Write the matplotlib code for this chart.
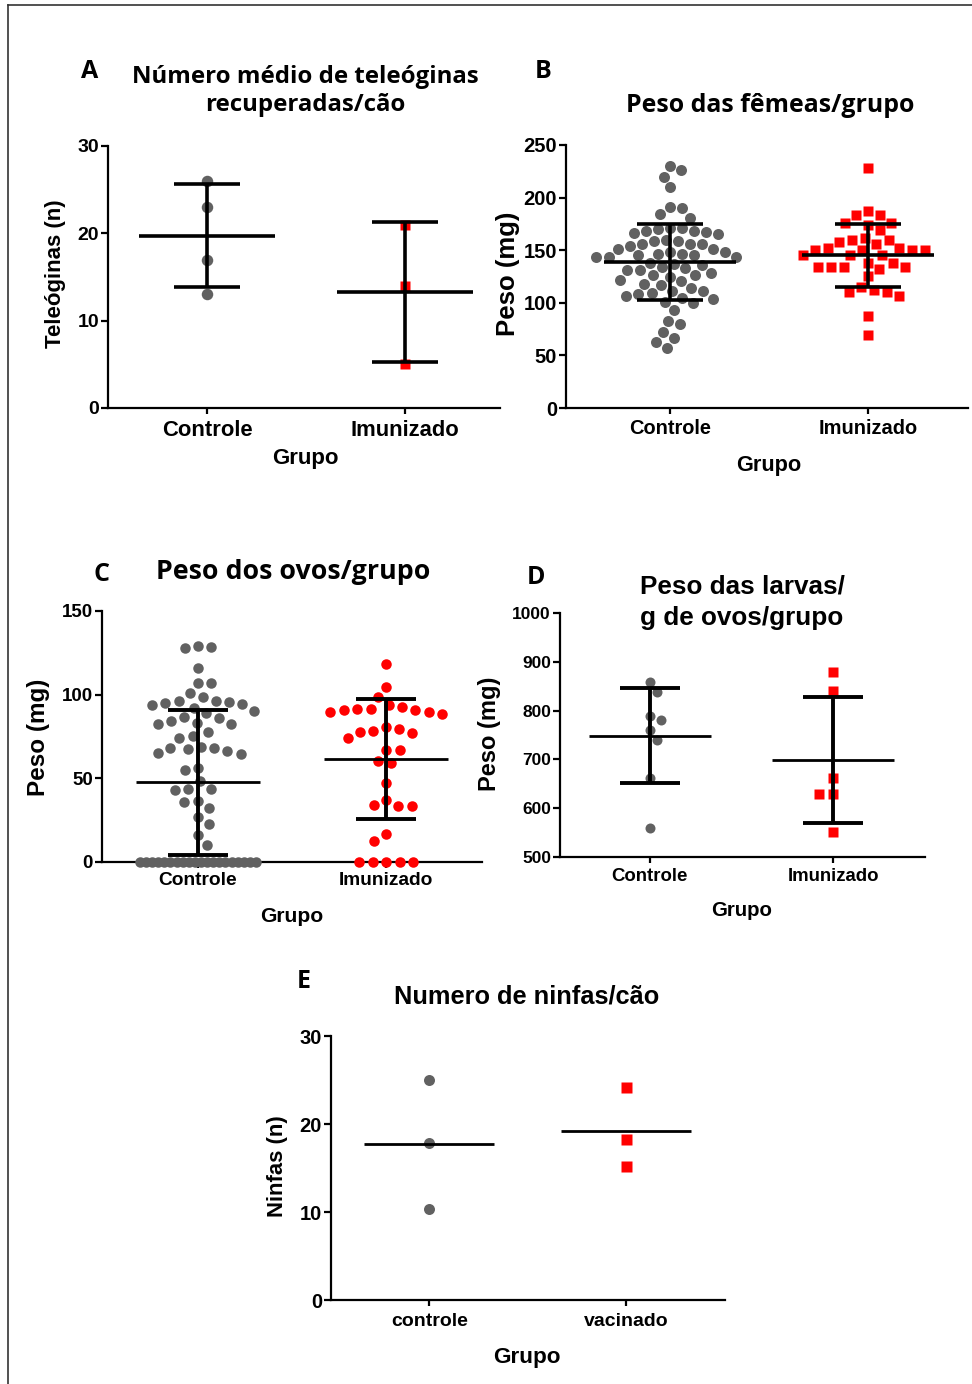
import numpy as np
import matplotlib
matplotlib.use('Agg')
import matplotlib.pyplot as plt
from matplotlib.lines import Line2D

W, H = 972, 1384
DPI = 100

GRAY = '#616161'
RED = '#ff0000'
FONT = 'Liberation Sans'
TFONT = 'Open Sans'

# ---------------- data ----------------
# Panel A
a_groups = ['Controle', 'Imunizado']
a_controle = [26, 23, 17, 13]
a_imunizado = [21, 14, 5]
a_mean = [19.75, 13.3]
a_sd = [5.85, 8.0]

# Panel B
b_groups = ['Controle', 'Imunizado']
b_controle = [226, 230, 220, 210,
              191, 184, 190, 181,
              171, 168, 167, 165, 159, 156, 159, 160, 166, 168, 170, 171,
              156, 151, 148, 146, 145, 144, 144, 144, 145, 146, 148, 151, 154, 156,
              137.5, 136, 133, 131, 126, 125, 126, 128, 131, 134, 137,
              122, 117, 114, 111, 108, 111, 118, 121,
              109, 105, 101, 100, 104, 106,
              93, 80, 83, 72.5, 67, 63, 57]
b_imunizado = [228, 187, 183.5, 183, 176, 174, 176, 169,
               162, 160, 158, 160, 156, 152, 150, 150, 145, 150, 150, 152,
               145, 145, 138, 134, 134, 132, 134, 134, 138, 125.5,
               115, 110, 106.5, 110, 112, 87, 69]
b_mean = [139, 145]
b_sd = [36, 30]

# Panel C
c_groups = ['Controle', 'Imunizado']
c_controle = [128.7, 128.1, 129.1, 115.8, 106.8, 107.2, 100.8,
              96.4, 95.4, 93.8, 98.4, 94.2, 94.8, 96.2,
              90.3, 86.5, 92.2, 82.9, 82.3, 84.3, 85.9, 88.9, 82.6,
              75.3, 73.9, 77.9, 68.9, 67.9, 66.3, 64.4, 65.0, 67.4, 68.3,
              56.4, 55.0, 48.4, 43.6, 43.0, 43.9, 36.0, 36.6, 32.1, 27.1,
              22.5, 16.1, 10.2] + [0] * 20
c_imunizado = [118.4, 104.8, 98.4,
               93.8, 91.5, 90.9, 89.7, 88.5, 89.5, 90.8, 91.6, 92.8,
               80.9, 78.5, 76.9, 73.9, 77.9, 79.5, 66.9, 66.8, 59.4, 60.4,
               47.4, 34.1, 33.7, 33.6, 37.1, 16.7, 12.6, 0, 0, 0, 0, 0]
c_mean = [47.6, 61.4]
c_sd = [43.3, 36.0]

# Panel D
d_groups = ['Controle', 'Imunizado']
d_controle = [859, 839, 789, 781, 760, 740, 661, 560]
d_imunizado = [880, 841, 661, 630, 630, 551]
d_mean = [748.6, 698.8]
d_sd = [97.7, 130.0]

# Panel E
e_groups = ['controle', 'vacinado']
e_controle = [25.0, 17.8, 10.3]
e_vacinado = [24.2, 18.3, 15.2]
e_mean = [17.7, 19.2]

# ---------------- helpers ----------------
fig = plt.figure(figsize=(W / DPI, H / DPI), dpi=DPI)


def px_axes(l, r, b, t):
    return fig.add_axes([l / W, 1 - b / H, (r - l) / W, (b - t) / H])


def ftext(x, y, s, size, family=FONT, rot=0, **kw):
    fig.text(x / W, 1 - y / H, s, fontsize=size, family=family,
             fontweight='bold', ha='center', va='center', rotation=rot, **kw)


def style(ax, xlim, ylim, yticks, xlabels, ysize, xsize, ypad=1.5, xpad=4):
    ax.set_xlim(*xlim)
    ax.set_ylim(*ylim)
    for s in ['top', 'right']:
        ax.spines[s].set_visible(False)
    for s in ['left', 'bottom']:
        ax.spines[s].set_linewidth(1.6)
    ax.set_yticks(yticks)
    ax.set_yticklabels([str(t) for t in yticks], fontsize=ysize,
                       family=FONT, fontweight='bold')
    ax.set_xticks(range(len(xlabels)))
    ax.set_xticklabels(xlabels, fontsize=xsize, family=FONT, fontweight='bold')
    ax.tick_params(axis='y', length=5, width=1.6, pad=ypad)
    ax.tick_params(axis='x', length=4, width=1.6, pad=xpad)
    ax.set_facecolor('none')


def swarm(ax, xc, vals, diam_px, max_hw_px=200):
    vals = np.asarray(vals, float)
    n = len(vals)
    pts_ = ax.transData.transform(np.column_stack([np.full(n, xc), vals]))
    ypx = pts_[:, 1]
    xoff = np.zeros(n)
    handled = np.zeros(n, bool)
    placed = []
    uniq, counts = np.unique(vals, return_counts=True)
    for u, c in zip(uniq, counts):
        if c >= 8:
            idx = np.where(vals == u)[0]
            span = min(max_hw_px, (c - 1) * diam_px / 2)
            xoff[idx] = np.linspace(-span, span, c)
            handled[idx] = True
            placed.extend(idx.tolist())
    order = np.argsort(-vals, kind='stable')
    flip = 1
    for i in order:
        if handled[i]:
            continue
        cands = [0.0]
        for j in placed:
            dy = abs(ypx[i] - ypx[j])
            if dy < diam_px:
                dx = np.sqrt(diam_px ** 2 - dy ** 2)
                cands += [xoff[j] - dx, xoff[j] + dx]
        cands = sorted(cands, key=lambda c: (round(abs(c), 3), flip * c))
        for c in cands:
            ok = all((c - xoff[j]) ** 2 + (ypx[i] - ypx[j]) ** 2
                     >= diam_px ** 2 - 1e-6 for j in placed)
            if ok:
                xoff[i] = c
                break
        flip = -flip
        placed.append(i)
    p0 = ax.transData.transform([[0, 0], [1, 0]])
    ppu = p0[1, 0] - p0[0, 0]
    return xc + xoff / ppu


def pts(px):
    return px * 72.0 / DPI


def mean_sd(ax, means, sds, mw=0.33, cw=0.165, lw_m=2.4, lw_e=2.6):
    for i, (m, s) in enumerate(zip(means, sds)):
        ax.plot([i - mw, i + mw], [m, m], color='black', lw=lw_m,
                zorder=5, solid_capstyle='butt', clip_on=False)
        if s is not None:
            ax.plot([i, i], [m - s, m + s], color='black', lw=lw_e,
                    zorder=5, solid_capstyle='butt', clip_on=False)
            for v in (m - s, m + s):
                ax.plot([i - cw, i + cw], [v, v], color='black', lw=lw_e,
                        zorder=5, solid_capstyle='butt', clip_on=False)


# ---------------- Panel A ----------------
axA = px_axes(108, 500, 408, 146)
style(axA, (-0.5, 1.48), (0, 30), [0, 10, 20, 30], a_groups, 14, 15.8, xpad=5)
xs = swarm(axA, 0, a_controle, 11)
axA.plot(xs, a_controle, 'o', ms=pts(11.5), color=GRAY, mec='none', zorder=3, clip_on=False)
xs = swarm(axA, 1, a_imunizado, 10)
axA.plot(xs, a_imunizado, 's', ms=pts(10), color=RED, mec='none', zorder=3, clip_on=False)
mean_sd(axA, a_mean, a_sd, mw=0.345, cw=0.165, lw_m=2.6, lw_e=2.6)

ftext(90, 71, 'A', 18, family=TFONT)
ftext(305, 77, 'Número médio de teleóginas', 17.3, family=TFONT)
ftext(305, 105, 'recuperadas/cão', 17.3, family=TFONT)
ftext(305, 458, 'Grupo', 16)
ftext(55, 274, 'Teleóginas (n)', 16, rot=90)

# ---------------- Panel B ----------------
axB = px_axes(566, 968, 408, 145)
style(axB, (-0.525, 1.505), (0, 250), [0, 50, 100, 150, 200, 250], b_groups, 14.5, 14.4, xpad=4)
xs = swarm(axB, 0, b_controle, 12.2)
axB.plot(xs, b_controle, 'o', ms=pts(11), color=GRAY, mec='none', zorder=3, clip_on=False)
xs = swarm(axB, 1, b_imunizado, 13)
axB.plot(xs, b_imunizado, 's', ms=pts(10), color=RED, mec='none', zorder=3, clip_on=False)
mean_sd(axB, b_mean, b_sd, mw=0.335, cw=0.165, lw_m=2.6, lw_e=2.6)

ftext(543, 71, 'B', 18, family=TFONT)
ftext(770, 105, 'Peso das fêmeas/grupo', 17.9, family=TFONT)
ftext(769, 465, 'Grupo', 15.7)
ftext(508, 274, 'Peso (mg)', 18.5, rot=90)

# ---------------- Panel C ----------------
axC = px_axes(102, 482, 862, 611)
style(axC, (-0.51, 1.51), (0, 150), [0, 50, 100, 150], c_groups, 13.5, 13.8, xpad=3)
xs = swarm(axC, 0, c_controle, 13.5, max_hw_px=58)
axC.plot(xs, c_controle, 'o', ms=pts(10.5), color=GRAY, mec='none', zorder=3, clip_on=False)
xs = swarm(axC, 1, c_imunizado, 13.5)
axC.plot(xs, c_imunizado, 'o', ms=pts(10.5), color=RED, mec='none', zorder=3, clip_on=False)
mean_sd(axC, c_mean, c_sd, mw=0.33, cw=0.16, lw_m=2.0, lw_e=2.8)

ftext(101, 575, 'C', 18, family=TFONT)
ftext(293, 572, 'Peso dos ovos/grupo', 19.3, family=TFONT)
ftext(292, 916, 'Grupo', 15.2)
ftext(39, 737, 'Peso (mg)', 17.5, rot=90)

# ---------------- Panel D ----------------
axD = px_axes(560, 925, 857, 613)
style(axD, (-0.49, 1.5), (500, 1000), [500, 600, 700, 800, 900, 1000], d_groups, 12.5, 13.4, xpad=4)
xs = swarm(axD, 0, d_controle, 12)
axD.plot(xs, d_controle, 'o', ms=pts(10), color=GRAY, mec='none', zorder=3, clip_on=False)
xs = swarm(axD, 1, d_imunizado, 14)
axD.plot(xs, d_imunizado, 's', ms=pts(10), color=RED, mec='none', zorder=3, clip_on=False)
mean_sd(axD, d_mean, d_sd, mw=0.333, cw=0.164, lw_m=2.0, lw_e=2.8)

ftext(536, 578, 'D', 18, family=TFONT)
ftext(742, 586, 'Peso das larvas/', 18.8)
ftext(742, 618, 'g de ovos/grupo', 18.8)
ftext(742, 910, 'Grupo', 14.7)
ftext(489, 734, 'Peso (mg)', 17, rot=90)

# ---------------- Panel E ----------------
axE = px_axes(331, 725, 1300, 1036)
style(axE, (-0.5, 1.505), (0, 30), [0, 10, 20, 30], e_groups, 14.5, 14, xpad=5)
xs = swarm(axE, 0, e_controle, 11)
axE.plot(xs, e_controle, 'o', ms=pts(11), color=GRAY, mec='none', zorder=3, clip_on=False)
xs = swarm(axE, 1, e_vacinado, 11)
axE.plot(xs, e_vacinado, 's', ms=pts(11), color=RED, mec='none', zorder=3, clip_on=False)
mean_sd(axE, e_mean, [None, None], mw=0.33, lw_m=2.0)

ftext(304, 981, 'E', 18, family=TFONT)
ftext(527, 997, 'Numero de ninfas/cão', 18.3)
ftext(527, 1357, 'Grupo', 16.2)
ftext(278, 1166, 'Ninfas (n)', 15.8, rot=90)

# frame
fig.add_artist(Line2D([8 / W, 8 / W], [0, 1 - 5 / H], color='#333333', lw=1.2, transform=fig.transFigure))
fig.add_artist(Line2D([8 / W, 1], [1 - 5 / H, 1 - 5 / H], color='#333333', lw=1.2, transform=fig.transFigure))

fig.savefig('out.png', dpi=DPI, facecolor='white')
